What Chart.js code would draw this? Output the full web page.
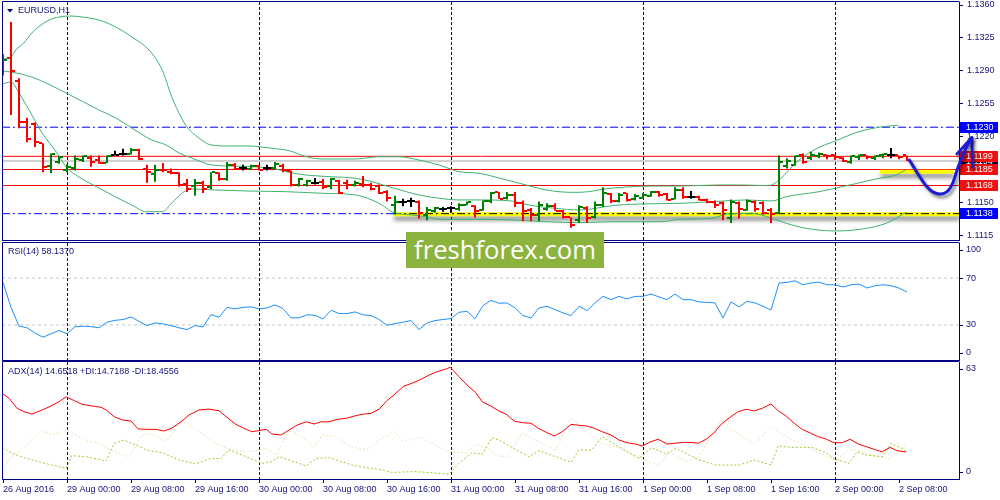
<!DOCTYPE html>
<html><head><meta charset="utf-8">
<script src="https://cdn.jsdelivr.net/npm/chart.js@4.4.1/dist/chart.umd.min.js"></script>
<style>
html,body{margin:0;padding:0;background:#fff;width:1000px;height:500px;overflow:hidden}
canvas{position:absolute;left:0;top:0}
#wm{position:absolute;left:406px;top:232px;width:198px;height:36px;background:#8db33f;color:#fff;font-family:"Open Sans",sans-serif;text-align:center;line-height:36px;white-space:nowrap}
</style></head><body>
<canvas id="cPrice" width="1000" height="500"></canvas>
<canvas id="cRsi" width="1000" height="500"></canvas>
<canvas id="cAdx" width="1000" height="500"></canvas>
<div id="wm">freshforex.com</div>
<script>
// ---------------- DATA ----------------
const timeLabels = ['26 Aug 2016','29 Aug 00:00','29 Aug 08:00','29 Aug 16:00','30 Aug 00:00','30 Aug 08:00','30 Aug 16:00','31 Aug 00:00','31 Aug 08:00','31 Aug 16:00','1 Sep 00:00','1 Sep 08:00','1 Sep 16:00','2 Sep 00:00','2 Sep 08:00'];
const barsPerLabel = 8;
const dayStartBars = [8, 32, 56, 80, 104];

const opens  = [1.1286,1.1304,1.1279,1.1236,1.1233,1.1213,1.1189,1.1193,1.1184,1.1187,1.1195,1.1197,1.1195,1.1192,1.1200,1.1201,1.1202,1.1206,1.1186,1.1180,1.1185,1.1182,1.1181,1.1170,1.1167,1.1171,1.1166,1.1181,1.1175,1.1190,1.1187,1.1186,1.1189,1.1187,1.1187,1.1189,1.1183,1.1168,1.1169,1.1171,1.1172,1.1167,1.1173,1.1171,1.1169,1.1170,1.1169,1.1167,1.1161,1.1147,1.1150,1.1151,1.1150,1.1137,1.1141,1.1143,1.1144,1.1143,1.1147,1.1146,1.1142,1.1151,1.1161,1.1155,1.1158,1.1149,1.1142,1.1137,1.1143,1.1146,1.1141,1.1134,1.1131,1.1144,1.1134,1.1147,1.1159,1.1152,1.1160,1.1154,1.1155,1.1157,1.1161,1.1159,1.1154,1.1163,1.1156,1.1156,1.1153,1.1150,1.1149,1.1133,1.1149,1.1142,1.1150,1.1149,1.1142,1.1139,1.1189,1.1190,1.1200,1.1197,1.1199,1.1200,1.1200,1.1197,1.1193,1.1198,1.1200,1.1197,1.1200,1.1200,1.1200,1.1200];
const highs  = [1.1308,1.1342,1.1282,1.1240,1.1235,1.1213,1.1202,1.1199,1.11905,1.1200,1.1200,1.1200,1.1200,1.1200,1.1205,1.1207,1.1208,1.1207,1.1190,1.1190,1.1192,1.1186,1.1182,1.1175,1.1175,1.1173,1.1182,1.1182,1.1193,1.1192,1.1190,1.1190,1.1190,1.1190,1.1193,1.1191,1.1184,1.1176,1.1174,1.1176,1.1175,1.1176,1.1174,1.1174,1.1173,1.1178,1.1171,1.1169,1.1163,1.1157,1.1154,1.1155,1.1152,1.1145,1.1145,1.1145,1.1146,1.1149,1.1151,1.1147,1.1152,1.1161,1.1161,1.1161,1.1161,1.1152,1.1144,1.1151,1.1149,1.1149,1.1142,1.1134,1.1147,1.1146,1.1151,1.1166,1.1160,1.1160,1.1160,1.1159,1.1160,1.1162,1.1162,1.1160,1.1166,1.1166,1.1162,1.1157,1.1154,1.1152,1.1151,1.1153,1.1151,1.1153,1.1152,1.1151,1.1144,1.1200,1.1197,1.1200,1.1202,1.1204,1.1203,1.1201,1.1201,1.1198,1.1200,1.1201,1.1200,1.1200,1.1202,1.1208,1.1200,1.1200];
const lows   = [1.1285,1.1243,1.1229,1.1214,1.1209,1.1182,1.1181,1.1191,1.1182,1.1184,1.1193,1.1188,1.1191,1.1192,1.1200,1.1200,1.1201,1.1195,1.1171,1.1172,1.1182,1.1180,1.1167,1.1161,1.1157,1.1160,1.1164,1.1173,1.1173,1.1185,1.1184,1.1185,1.1184,1.1184,1.1185,1.1182,1.1167,1.1167,1.1167,1.1169,1.1164,1.1164,1.1159,1.1164,1.1167,1.1166,1.1163,1.1159,1.1151,1.1137,1.1146,1.1145,1.1133,1.1131,1.1139,1.1140,1.1139,1.1141,1.1147,1.1134,1.1141,1.1149,1.1154,1.1153,1.1145,1.1130,1.1130,1.1130,1.1141,1.1141,1.1133,1.1123,1.1128,1.1128,1.1133,1.1145,1.1149,1.1150,1.1151,1.1152,1.1154,1.1156,1.1156,1.1152,1.1153,1.1154,1.1154,1.1152,1.1149,1.1144,1.1131,1.1128,1.1133,1.1141,1.1140,1.1137,1.1128,1.1138,1.1186,1.1189,1.1191,1.1195,1.1197,1.1196,1.1195,1.1193,1.1191,1.1195,1.1196,1.1195,1.1197,1.1197,1.1196,1.1194];
const closes = [1.1302,1.1290,1.1236,1.1217,1.1214,1.1188,1.1201,1.1198,1.1188,1.1196,1.1199,1.1193,1.1192,1.1199,1.1200,1.1201,1.1206,1.1196,1.1182,1.1184,1.1184,1.1181,1.1168,1.1164,1.1171,1.1164,1.1182,1.1175,1.1190,1.1186,1.1187,1.1189,1.1185,1.1187,1.1191,1.1184,1.1168,1.1175,1.1173,1.1171,1.1166,1.1175,1.1160,1.1169,1.1171,1.1169,1.1164,1.1160,1.1155,1.1150,1.1150,1.1151,1.1139,1.1142,1.1144,1.1143,1.1144,1.1147,1.1150,1.1141,1.1151,1.1160,1.1154,1.1158,1.1149,1.1141,1.1137,1.1147,1.1146,1.1141,1.1134,1.1126,1.1145,1.1133,1.1147,1.1160,1.1151,1.1158,1.1153,1.1157,1.1158,1.1161,1.1158,1.1153,1.1163,1.1156,1.1156,1.1153,1.1150,1.1147,1.1142,1.1150,1.1143,1.1151,1.1143,1.1139,1.1138,1.1193,1.1194,1.1199,1.1193,1.1200,1.1202,1.1199,1.1198,1.1194,1.1199,1.1200,1.1198,1.1199,1.1202,1.1200,1.1198,1.1194];

// Bollinger bands: [bar index, price]
const bbUpper  = [[-0.1,1.13026],[1,1.13047],[1.6,1.13121],[2.6,1.13196],[3.6,1.13302],[4.75,1.13387],[5.75,1.1344],[7,1.13472],[8.5,1.13483],[9.9,1.13472],[12,1.1344],[14.1,1.13366],[16.1,1.1326],[18.25,1.13121],[19.9,1.12909],[21.1,1.12621],[22.25,1.12409],[22.9,1.12313],[24.5,1.12185],[26,1.12111],[28.6,1.121],[30.75,1.121],[33.6,1.12076],[35.75,1.1205],[37.9,1.11986],[39.9,1.11962],[44.1,1.11962],[47,1.11986],[49.5,1.11986],[52,1.11951],[54.5,1.11898],[57,1.11827],[59.5,1.1181],[62,1.1176],[64.9,1.11696],[67.9,1.11632],[71.1,1.11607],[73.25,1.11614],[74.9,1.1164],[77.4,1.11661],[81.1,1.11674],[84.5,1.11674],[89.5,1.11685],[92.4,1.11685],[95.75,1.11678],[97,1.11738],[99.5,1.11951],[101.6,1.12068],[104.1,1.12156],[107,1.12252],[109.9,1.12305],[111.9,1.1232]];
const bbMiddle = [[-0.1,1.12898],[1,1.12887],[3.6,1.12834],[7.9,1.12664],[12,1.12483],[14.1,1.12398],[16.1,1.12291],[18.6,1.12164],[20.4,1.12111],[22,1.12026],[23.6,1.11972],[26.1,1.11898],[29.5,1.11884],[33.6,1.11863],[35.75,1.1182],[37.9,1.11791],[41.1,1.11773],[44.1,1.11756],[46.1,1.1172],[48.25,1.11667],[50.4,1.11614],[52,1.11579],[54.5,1.11544],[57,1.11526],[59.5,1.11526],[63.6,1.11515],[65.75,1.11472],[69.1,1.11437],[72,1.11419],[74.1,1.11437],[76.1,1.11465],[79.5,1.11483],[84.5,1.1149],[87.9,1.11504],[89.5,1.11512],[92.9,1.11526],[96.1,1.11515],[97.9,1.11561],[102,1.11614],[106.1,1.1169],[109.1,1.11749],[111.6,1.11792],[112.9,1.1185]];
const bbLower  = [[-0.1,1.1276],[1,1.12781],[2,1.12664],[3.25,1.12483],[4.9,1.12238],[6.75,1.12026],[7.9,1.11877],[9.5,1.1177],[12,1.11653],[14.1,1.11557],[16.1,1.11472],[17.9,1.11401],[19.9,1.11401],[21.1,1.11494],[22.4,1.116],[23.6,1.11643],[26.6,1.11632],[30.75,1.11621],[35.4,1.11614],[39.9,1.11597],[44.1,1.11579],[46.1,1.11526],[47.4,1.11472],[48.6,1.11401],[51.1,1.11366],[52.9,1.11348],[54.5,1.1132],[59.5,1.1132],[63.6,1.11313],[67.9,1.11295],[72,1.11284],[76.1,1.11295],[82.4,1.11295],[84.5,1.1132],[88.6,1.11331],[90.5,1.11377],[93.6,1.11384],[96.1,1.11331],[97.9,1.11278],[100.4,1.11224],[104.1,1.11196],[107.4,1.11217],[110.4,1.11278],[111.6,1.11331],[112.9,1.11398]];

const rsi = [66.3,45,29,27.5,23,19.5,22.4,25.2,22.4,28.5,28.9,28.5,27.5,32.3,33.9,34.6,36.8,33.1,29.4,31.7,30.9,29.4,27.5,26,29.4,28.3,38.8,36.5,45,43.7,45,45.4,43.7,44.5,47.1,43.9,36,36,38.6,38.2,35.1,42.5,39.7,39.7,41.1,38.6,38,34.6,29.7,31.1,32.3,33.7,26,31.7,33.7,34.6,35.4,40.8,41.6,35.4,46.5,51,48.5,48.8,44.5,38,36,44.5,45.9,43.1,40.3,38,45.9,42.2,48.8,54.4,51.6,54.4,52.2,54.4,54.4,56.4,53.9,51.6,56.4,51.6,51.6,49.6,49.3,48.8,36,49.6,45.4,50.1,48.8,45.9,42.8,65.8,66.3,67.7,64.3,65.8,66.6,64.3,64.3,62.4,64.3,64.9,61.5,63.5,64.3,63.5,61.5,58.1];
const rsiLevels = [30, 70];
const rsiAxisLabels = [100, 70, 30, 0];

// ADX / DI: [bar index, value]
const adxMain = [[-0.1,46.6],[0.75,43.9],[1.75,38.4],[2.6,36.6],[3.6,35.3],[4.9,37.5],[6,39.7],[7,42],[7.9,44.7],[8.9,42.6],[9.9,40.6],[11.1,39.7],[12.25,39],[12.9,37.5],[13.9,33.9],[14.9,32.1],[16,31.5],[16.9,27.2],[18,27],[19.1,27],[20.1,26.1],[21.1,27.6],[22.25,31.1],[23.25,34.8],[24.5,37.5],[25.75,38],[27,37.1],[28,33.5],[29.1,29.7],[30.1,27.6],[31.1,25.7],[32,26.3],[32.9,27],[33.6,24.5],[34.75,23.9],[35.75,26.6],[36.75,29.3],[37.9,31.1],[38.9,29.9],[39.75,31.1],[40.75,31.1],[41.75,32.4],[42.9,33],[43.9,34.2],[44.9,35.2],[46,35.7],[47,37.9],[48,42.6],[49.1,46.6],[50.1,50.5],[51.1,52],[52.25,54.2],[53.25,56.5],[54.25,58.3],[55.4,59.8],[55.9,60.7],[57,55.6],[58,51.1],[59.1,46.9],[59.9,42],[61.1,39.3],[62,37],[62.9,35.2],[63.9,31.5],[64.9,30.6],[66,30.3],[66.9,27.6],[68,25.2],[68.9,23.4],[69.9,25.7],[71,29.7],[72,29.2],[73,28.8],[73.9,27.6],[74.9,25.7],[76,23.9],[77,21.2],[78,19.7],[79.1,19],[79.9,17.9],[81,20.3],[81.9,21.6],[83,19],[83.9,19.4],[84.9,19.9],[86,19.9],[86.9,19.4],[87.9,21.6],[88.9,25.2],[89.9,30.3],[91,33.9],[91.9,36.6],[92.9,37.9],[93.9,37],[94.9,38.4],[96,40.8],[96.9,37.1],[97.9,34.2],[98.9,30.3],[99.9,27],[101,24.8],[101.9,23],[102.9,21.7],[103.9,19.7],[104.9,19.7],[105.9,21.6],[106.9,19],[107.9,17.6],[108.9,16.1],[109.9,14.8],[110.9,17.2],[111.75,15.4],[112.9,14.65]];
const plusDI  = [[-0.1,17.2],[1.1,14],[2.9,11.2],[4.5,9.4],[6.1,7.6],[7.9,5.8],[8.6,12.7],[10.4,12.1],[12.9,9.8],[13.9,19.4],[15.1,21.2],[16.6,18.5],[17.9,15.8],[19.9,14.3],[22,10.3],[24.1,8.2],[25.75,10.9],[27.25,11.2],[28.25,15.8],[30.4,12.1],[32.4,8.5],[33.6,9.4],[34.5,12.1],[35.75,10.3],[37.9,7.1],[39.1,11.2],[40.75,11.6],[43.6,7.6],[45.4,6.1],[47,5.3],[48.6,3.6],[51.6,4],[53.6,3.4],[55.75,2.6],[57,8.5],[58.6,14.3],[59.9,13.4],[61.1,22.4],[62,21.2],[63.6,17.2],[65.75,12.1],[67,15.4],[69.1,12.1],[71,9.1],[72,15.8],[73.6,15.8],[74.9,23],[76.6,18.5],[79.5,11.2],[81.1,17],[82.9,13.6],[84.1,16.7],[87,10.3],[89.1,7.6],[92,7.6],[93.9,10.3],[96,7.6],[96.9,17.9],[98.6,17.2],[101.1,17.2],[102.9,14.3],[103.9,10.9],[105.75,8.5],[106.75,14.8],[107.9,13],[109.9,12.1],[111,19.4],[111.75,17.8],[112.6,16.3],[112.9,14.7]];
const minusDI = [[-0.1,4.9],[1.1,12.1],[2.9,18.5],[4.9,26.3],[6.1,23.9],[7.9,26.3],[10.4,21.2],[12,19.4],[14.1,14.3],[15.75,12.1],[17.4,23.9],[18.6,24.8],[20.4,20.3],[22.4,32.4],[24.5,25.7],[26.6,19.4],[28.6,15.8],[31.1,14.8],[32.9,16.7],[34.1,13],[35.75,26.3],[37.4,23],[38.9,17.2],[39.9,23.9],[41.6,23],[43.25,17.9],[45.4,15.8],[47,21.2],[48.9,25.7],[50.1,20.3],[52,22.7],[53.6,19.4],[55.75,14.8],[57.9,14],[59.1,19],[60.75,16.1],[62,12.5],[63,12.1],[64.9,24.8],[66.1,22.1],[69.1,15.8],[71,33],[72.9,25.7],[74.9,19.4],[76.6,17.6],[79.9,10.9],[82,7.1],[83.25,14.8],[85.4,9.4],[87,12.1],[89.75,32.1],[92,23.9],[93.9,19],[96,28.4],[97.9,23],[99.5,19.4],[102,14.3],[104.1,10.3],[105.75,15.8],[107,15.4],[108.6,13],[110.75,10.9],[112.6,17.2],[112.9,18.5]];
const adxAxisLabels = [63, 0];

// Drawn objects on the price chart
const redLevels = [1.1199, 1.1185, 1.1168];
const bidPrice = 1.1194;
const dashLevels = [1.1230, 1.1138];
const yellowBands = [[48.75, 119.5, 1.11375], [109.6, 118.75, 1.11827]]; // [from bar, to bar, price]
const blackDashOnBand = [48.75, 119.5, 1.1138];
const arrowShaft = [[121.1,1.1219],[120.25,1.12057],[119.4,1.1188],[118.4,1.11653],[117.3,1.11589],[115.9,1.11632],[114.6,1.11773],[113.3,1.11951]];
const arrowHead  = [[121.2,1.11877],[121.1,1.1219],[119.25,1.12015]];
const priceTicks = [1.1115, 1.1150, 1.1185, 1.1220, 1.1255, 1.1290, 1.1325, 1.1360];
const tagLevels = [1.1230, 1.1194, 1.1199, 1.1185, 1.1168, 1.1138];
const tagKinds  = ['blue', 'bid', 'red', 'red', 'red', 'blue'];

const priceTitle = 'EURUSD,H1';
const rsiTitle = 'RSI(14) 58.1370';
const adxTitle = 'ADX(14) 14.6518 +DI:14.7188 -DI:18.4556';

// ---------------- STYLE ----------------
const X_MIN = -0.125, X_MAX = 119.5;
const P_MIN = 1.1110, P_MAX = 1.13632;
const ADX_MAX = 63.6;
const NAVY = '#000080';
const TXT = '#14147a';
const FAM = '"Liberation Sans", Arial, sans-serif';
const UP = '#008000', DOWN = '#ff0000', DOJI = '#000000';
const kindColors = [UP, DOWN, DOJI];
const tagColors = {blue: '#0000ff', red: '#f01010', bid: '#000033'};
const DAY_DASH = [3, 2];
function kind(i) { if (i === undefined) return 2; return closes[i] > opens[i] ? 0 : (closes[i] < opens[i] ? 1 : 2); }
function tickImg(color, left) {
  const c = document.createElement('canvas'); c.width = 8; c.height = 2;
  const g = c.getContext('2d'); g.fillStyle = color; g.fillRect(left ? 0 : 5, 0, 3, 2);
  return c;
}
const openImgs = kindColors.map(c => tickImg(c, true));
const closeImgs = kindColors.map(c => tickImg(c, false));
const pts = arr => arr.map(([x, y]) => ({x, y}));

function hLine(level, x0, x1, style) {
  return Object.assign({type: 'line', data: [{x: x0, y: level}, {x: x1, y: level}], pointRadius: 0, borderWidth: 1}, style);
}

const shadowPlugin = {
  id: 'shadow',
  beforeDatasetDraw(chart, args) {
    const s = chart.data.datasets[args.index].shadow;
    if (s) { const c = chart.ctx; c.save(); c.shadowColor = s.color; c.shadowBlur = s.blur; c.shadowOffsetX = s.x; c.shadowOffsetY = s.y; }
  },
  afterDatasetDraw(chart, args) {
    if (chart.data.datasets[args.index].shadow) chart.ctx.restore();
  }
};

function framePlugin(title, titleY, extraBefore, extraAfter, triangle) {
  return {
    id: 'frame',
    beforeDatasetsDraw(chart) { if (extraBefore) { chart.ctx.save(); extraBefore(chart); chart.ctx.restore(); } },
    afterDraw(chart) {
      const {ctx, chartArea: a} = chart;
      ctx.save();
      ctx.strokeStyle = NAVY; ctx.lineWidth = 1;
      ctx.beginPath();
      ctx.moveTo(a.left + 0.5, a.bottom + 0.5); ctx.lineTo(a.left + 0.5, a.top - 0.5); ctx.lineTo(a.right + 0.5, a.top - 0.5);
      ctx.moveTo(a.left, a.bottom + 0.5); ctx.lineTo(a.right + 1, a.bottom + 0.5);
      ctx.stroke();
      ctx.fillStyle = TXT; ctx.font = '9px ' + FAM; ctx.textBaseline = 'middle'; ctx.textAlign = 'left';
      let tx = 8;
      if (triangle) {
        ctx.fillStyle = NAVY; ctx.beginPath(); ctx.moveTo(7, 9); ctx.lineTo(13, 9); ctx.lineTo(10, 12.5); ctx.closePath(); ctx.fill();
        ctx.fillStyle = TXT; tx = 18;
      }
      ctx.fillText(title, tx, titleY);
      if (extraAfter) extraAfter(chart);
      ctx.restore();
    }
  };
}

function yAxisFit(s) { s.width = 41; s.paddingTop = 0; s.paddingBottom = 0; }
function baseOptions(pad, xScale, yScale) {
  return {
    responsive: false, animation: false, events: [],
    layout: {padding: pad, autoPadding: false},
    plugins: {legend: {display: false}, tooltip: {enabled: false}},
    scales: {x: xScale, y: yScale}
  };
}
// x axis without labels: only dashed day-separator grid lines
function dayGridX() {
  return {
    type: 'linear', min: X_MIN, max: X_MAX, offset: false, display: true,
    afterFit: s => { s.height = 0; s.paddingLeft = 0; s.paddingRight = 0; },
    afterBuildTicks: s => { s.ticks = dayStartBars.map(v => ({value: v})); },
    ticks: {display: false},
    grid: {offset: false, drawTicks: false, color: NAVY, lineWidth: 1},
    border: {display: false, dash: DAY_DASH}
  };
}

// ---------------- PRICE CHART ----------------
const arrowShadow = {color: 'rgba(0,0,0,0.45)', blur: 3, x: 2, y: 3};
const bandShadow = {color: 'rgba(0,0,0,0.5)', blur: 4, x: 1, y: 4};
const priceSets = [
  {type: 'line', data: pts(arrowShaft), borderColor: '#1c1cd8', borderWidth: 3, tension: 0.45, capBezierPoints: false, clip: false, pointRadius: 0, borderCapStyle: 'round', order: 0, shadow: arrowShadow},
  {type: 'line', data: pts(arrowHead), borderColor: '#1c1cd8', borderWidth: 3, tension: 0, clip: false, pointRadius: 0, borderCapStyle: 'round', borderJoinStyle: 'round', order: 0, shadow: arrowShadow},
  {type: 'line', showLine: false, data: opens.map((v, i) => ({x: i, y: v})), pointStyle: c => openImgs[kind(c.dataIndex)], pointRadius: 3, order: 1},
  {type: 'line', showLine: false, data: closes.map((v, i) => ({x: i, y: v})), pointStyle: c => closeImgs[kind(c.dataIndex)], pointRadius: 3, order: 1},
  {type: 'bar', data: highs.map((h, i) => ({x: i, y: [lows[i], h]})), backgroundColor: c => kindColors[kind(c.dataIndex)], barThickness: 2, borderWidth: 0, inflateAmount: 0, order: 2},
  ...[bbUpper, bbMiddle, bbLower].map(b => ({type: 'line', data: pts(b), borderColor: '#3cb371', borderWidth: 1, pointRadius: 0, cubicInterpolationMode: 'monotone', order: 3})),
  hLine(blackDashOnBand[2], blackDashOnBand[0], blackDashOnBand[1], {borderColor: '#000000', borderDash: [8, 3, 2, 3], order: 4}),
  ...yellowBands.map(b => hLine(b[2], b[0], b[1], {borderColor: '#ffff00', borderWidth: 4, order: 5, shadow: bandShadow})),
  ...dashLevels.map(l => hLine(l, X_MIN, X_MAX, {borderColor: '#0000ff', borderDash: [8, 3, 2, 3], order: 6})),
  ...redLevels.map(l => hLine(l, X_MIN, X_MAX, {borderColor: '#ff0000', order: 7})),
  hLine(bidPrice, X_MIN, X_MAX, {borderColor: '#d0d0d0', borderWidth: 2, order: 8})
];
const priceTags = chart => {
  const ctx = chart.ctx, y = chart.scales.y;
  ctx.font = '9px ' + FAM; ctx.textBaseline = 'middle'; ctx.textAlign = 'left';
  tagLevels.forEach((v, k) => {
    const py = y.getPixelForValue(v);
    ctx.fillStyle = tagColors[tagKinds[k]];
    ctx.fillRect(960, Math.round(py - 5.5), 38, 11);
    ctx.fillStyle = '#ffffff';
    ctx.fillText(v.toFixed(4), 966, py);
  });
};
new Chart(document.getElementById('cPrice'), {
  type: 'line',
  data: {datasets: priceSets},
  options: baseOptions({left: 2, right: 0, top: 2, bottom: 260}, dayGridX(), {
    type: 'linear', position: 'right', min: P_MIN, max: P_MAX,
    afterFit: yAxisFit,
    afterBuildTicks: s => { s.ticks = priceTicks.map(v => ({value: v})); },
    ticks: {autoSkip: false, color: TXT, font: {family: FAM, size: 9}, padding: 4, callback: v => Number(v).toFixed(4)},
    grid: {drawOnChartArea: false, drawTicks: true, tickLength: 4, color: NAVY},
    border: {display: true, color: NAVY, width: 1}
  }),
  plugins: [shadowPlugin, framePlugin(priceTitle, 10.5, priceTags, null, true)]
});

// ---------------- SIDE LABELS for RSI / ADX ----------------
function sideLabels(values) {
  return chart => {
    const ctx = chart.ctx, y = chart.scales.y, a = chart.chartArea;
    ctx.font = '9px ' + FAM; ctx.textBaseline = 'middle'; ctx.textAlign = 'left';
    ctx.strokeStyle = NAVY; ctx.lineWidth = 1; ctx.fillStyle = TXT;
    values.forEach(v => {
      const py = Math.min(Math.max(y.getPixelForValue(v), a.top + 6.5), a.bottom - 7);
      ctx.beginPath(); ctx.moveTo(a.right, Math.round(py) + 0.5); ctx.lineTo(a.right + 4, Math.round(py) + 0.5); ctx.stroke();
      ctx.fillText(String(v), 966, py);
    });
  };
}
function sideY(min, max) {
  return {type: 'linear', position: 'right', min, max, afterFit: yAxisFit,
    ticks: {display: false}, grid: {display: false}, border: {display: true, color: NAVY, width: 1}};
}

// ---------------- RSI CHART ----------------
new Chart(document.getElementById('cRsi'), {
  type: 'line',
  data: {datasets: [
    {type: 'line', data: rsi.map((v, i) => ({x: i, y: v})), borderColor: '#1e90ff', borderWidth: 1, pointRadius: 0, order: 0},
    ...rsiLevels.map(l => hLine(l, X_MIN, X_MAX, {borderColor: '#c8c8c8', borderDash: [3, 3], order: 5}))
  ]},
  options: baseOptions({left: 2, right: 0, top: 243, bottom: 140}, dayGridX(), sideY(0, 100)),
  plugins: [framePlugin(rsiTitle, 251.5, null, sideLabels(rsiAxisLabels), false)]
});

// ---------------- ADX CHART ----------------
new Chart(document.getElementById('cAdx'), {
  type: 'line',
  data: {datasets: [
    {type: 'line', data: pts(adxMain), borderColor: '#ff0000', borderWidth: 1, pointRadius: 0, order: 0},
    {type: 'line', data: pts(plusDI), borderColor: '#9acd32', borderWidth: 1, borderDash: [2, 2], pointRadius: 0, order: 1},
    {type: 'line', data: pts(minusDI), borderColor: '#f5deb3', borderWidth: 1, borderDash: [2, 2], pointRadius: 0, order: 2}
  ]},
  options: baseOptions({left: 2, right: 0, top: 362, bottom: 0}, {
    type: 'linear', position: 'bottom', min: X_MIN, max: X_MAX, offset: false,
    afterFit: s => { s.height = 21; s.paddingLeft = 0; s.paddingRight = 0; },
    afterBuildTicks: s => { s.ticks = timeLabels.map((_, k) => ({value: k * barsPerLabel})); },
    ticks: {autoSkip: false, maxRotation: 0, minRotation: 0, align: 'start', labelOffset: 0, padding: 1, color: TXT, font: {family: FAM, size: 9},
      callback: v => timeLabels[Math.round(v / barsPerLabel)]},
    grid: {offset: false, drawOnChartArea: true, drawTicks: true, tickLength: 4, lineWidth: 1,
      color: c => (c.tick && dayStartBars.includes(c.tick.value)) ? NAVY : 'rgba(0,0,0,0)',
      tickColor: NAVY},
    border: {display: true, color: NAVY, width: 1, dash: DAY_DASH}
  }, sideY(0, ADX_MAX)),
  plugins: [framePlugin(adxTitle, 371.5, null, sideLabels(adxAxisLabels), false)]
});

// ---------------- WATERMARK size ----------------
(function () {
  const wm = document.getElementById('wm');
  const mc = document.createElement('canvas').getContext('2d');
  mc.font = '100px "Open Sans"';
  const w = mc.measureText(wm.textContent).width;
  wm.style.fontSize = (100 * 182 / w).toFixed(2) + 'px';
})();
</script>
</body></html>
